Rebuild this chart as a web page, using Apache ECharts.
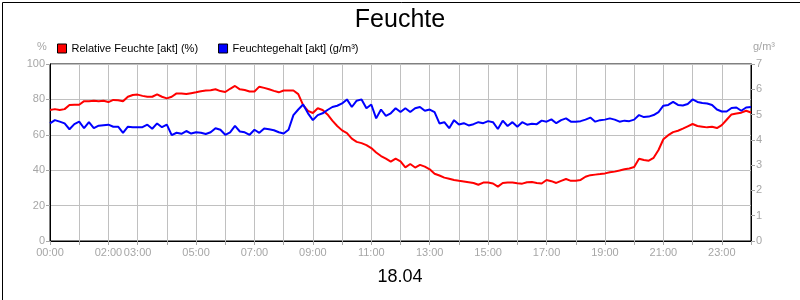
<!DOCTYPE html>
<html>
<head>
<meta charset="utf-8">
<script src="https://cdn.jsdelivr.net/npm/echarts@6/dist/echarts.min.js"></script>
<style>
  html, body { margin: 0; padding: 0; background: #fff; }
  #chart { width: 800px; height: 300px; }
</style>
</head>
<body>
<div id="chart"></div>
<script>
"use strict";

// one reading every 10 minutes, 00:00 .. 24:00
var stepMinutes = 10;

var relFeuchte = [
    74, 74.5, 74, 74.5, 76.8, 77,
    77, 79, 79, 79.3, 79, 79.2,
    78.5, 79.7, 79.5, 78.9, 81.5, 82.5,
    82.7, 82, 81.5, 81.5, 82.9, 81.5,
    80.6, 81.5, 83.4, 83.3, 83, 83.5,
    84, 84.6, 85, 85.2, 85.7, 84.7,
    84.2, 86, 87.6, 85.7, 85.3, 84.5,
    84.5, 87.2, 86.5, 85.7, 84.8, 84,
    85, 85, 85, 83, 76.8, 73.5,
    72.3, 75, 74, 71.5, 68, 65,
    62.5, 61, 57.8, 56, 55.3, 54.2,
    52.5, 50, 48, 46.5, 44.8, 46.5,
    45, 41.6, 43.5, 41.5, 43, 42,
    40.5, 38, 37, 35.8, 35.2, 34.5,
    34, 33.6, 33.2, 32.8, 31.8, 33,
    33, 32.5, 30.7, 32.8, 33, 33,
    32.6, 32.4, 33.2, 33.3, 32.8, 32.5,
    34.5, 33.8, 32.8, 34, 35, 34,
    34, 34.5, 36.3, 37.2, 37.5, 37.8,
    38.2, 38.8, 39.2, 39.8, 40.5, 41,
    41.8, 46.5, 45.8, 45.4, 47, 51.4,
    57.5, 59.8, 61.5, 62.3, 63.5, 64.8,
    66.1, 65, 64.6, 64.2, 64.5, 63.8,
    65.5, 68.5, 71.5, 72, 72.5, 73.6,
    72.6
];

var feuchtegehalt = [
    4.65, 4.78, 4.72, 4.65, 4.42, 4.62,
    4.72, 4.46, 4.7, 4.46, 4.56, 4.58,
    4.6, 4.52, 4.52, 4.28, 4.52, 4.5,
    4.5, 4.5, 4.6, 4.44, 4.65, 4.5,
    4.6, 4.19, 4.28, 4.24, 4.35, 4.25,
    4.3, 4.28, 4.23, 4.3, 4.46, 4.4,
    4.2, 4.3, 4.55, 4.33, 4.3, 4.2,
    4.4, 4.28, 4.45, 4.42, 4.38, 4.3,
    4.25, 4.4, 4.98, 5.2, 5.4, 5.05,
    4.78, 4.98, 5.05, 5.18, 5.3, 5.35,
    5.44, 5.6, 5.3, 5.55, 5.6, 5.25,
    5.4, 4.85, 5.2, 4.95, 5.05, 5.25,
    5.1, 5.25, 5.1, 5.25, 5.3, 5.15,
    5.2, 5.1, 4.65, 4.7, 4.46, 4.78,
    4.61, 4.66, 4.57, 4.62, 4.7, 4.66,
    4.74, 4.7, 4.43, 4.76, 4.55, 4.7,
    4.52, 4.7, 4.6, 4.64, 4.62, 4.76,
    4.72, 4.81, 4.66, 4.78, 4.85, 4.72,
    4.72, 4.74, 4.8, 4.88, 4.72, 4.78,
    4.8, 4.85, 4.8, 4.72, 4.76, 4.74,
    4.8, 4.98, 4.9, 4.92, 4.98, 5.1,
    5.35, 5.38, 5.5, 5.38, 5.36, 5.42,
    5.6, 5.5, 5.46, 5.44, 5.38, 5.2,
    5.12, 5.12, 5.26, 5.28, 5.15, 5.28,
    5.3
];

// hours that carry a label on the time axis
var labeledHours = [0, 2, 3, 5, 7, 9, 11, 13, 15, 17, 19, 21, 23];

var seriesNames = ["Relative Feuchte [akt] (%)", "Feuchtegehalt [akt] (g/m\u00b3)"];

function toPairs(values) {
    return values.map(function (v, i) { return [i * stepMinutes, v]; });
}

function pad(n) { return (n < 10 ? "0" : "") + n; }

var gray = "#a6a6a6";
var font = "Liberation Sans";

var chart = echarts.init(document.getElementById("chart"));

chart.setOption({
    animation: false,
    textStyle: { fontFamily: font },
    title: [{
        text: "Feuchte",
        left: "center",
        top: 3,
        textStyle: { fontSize: 25, fontWeight: "normal", color: "#000", fontFamily: font }
    }, {
        text: "18.04",
        left: "center",
        top: 263,
        textStyle: { fontSize: 18, fontWeight: "normal", color: "#000", fontFamily: font }
    }],
    legend: {
        data: seriesNames,
        left: 52,
        top: 38,
        icon: "rect",
        itemWidth: 9,
        itemHeight: 9,
        itemGap: 20,
        itemStyle: { borderColor: "#000", borderWidth: 1 },
        textStyle: { fontSize: 11, color: "#000", fontFamily: font }
    },
    grid: {
        left: 50,
        right: 49,
        top: 64,
        bottom: 59,
        show: true,
        borderColor: "#000",
        borderWidth: 1
    },
    xAxis: {
        type: "value",
        min: 0,
        max: 1440,
        interval: 60,
        axisLine: { lineStyle: { color: "#000" } },
        axisTick: { length: 4, lineStyle: { color: gray } },
        axisLabel: {
            color: gray,
            fontSize: 11,
            margin: 6,
            formatter: function (v) {
                var h = v / 60;
                return labeledHours.indexOf(h) >= 0 ? pad(h) + ":00" : "";
            }
        },
        splitLine: { lineStyle: { color: "#c0c0c0" } }
    },
    yAxis: [{
        type: "value",
        min: 0,
        max: 100,
        interval: 20,
        axisLine: { show: true, lineStyle: { color: "#000" } },
        axisTick: { show: true, length: 4, lineStyle: { color: gray } },
        axisLabel: { color: gray, fontSize: 11, margin: 5 },
        splitLine: { lineStyle: { color: "#c0c0c0" } }
    }, {
        type: "value",
        min: 0,
        max: 7,
        interval: 1,
        position: "right",
        axisLine: { show: true, lineStyle: { color: "#000" } },
        axisTick: { show: true, length: 4, lineStyle: { color: gray } },
        axisLabel: { color: gray, fontSize: 11, margin: 5 },
        splitLine: { show: false }
    }],
    graphic: [{
        type: "text",
        left: 37,
        top: 41,
        style: { text: "%", fill: gray, font: "11px " + font }
    }, {
        type: "text",
        left: 753,
        top: 41,
        style: { text: "g/m\u00b3", fill: gray, font: "11px " + font }
    }, {
        type: "rect",
        left: 0,
        top: 0,
        shape: { width: 799, height: 299 },
        style: { fill: "none", stroke: "#000", lineWidth: 1 },
        silent: true
    }],
    series: [{
        name: seriesNames[0],
        type: "line",
        yAxisIndex: 0,
        data: toPairs(relFeuchte),
        showSymbol: false,
        color: "#ff0000",
        lineStyle: { width: 2, color: "#ff0000" }
    }, {
        name: seriesNames[1],
        type: "line",
        yAxisIndex: 1,
        data: toPairs(feuchtegehalt),
        showSymbol: false,
        color: "#0000ff",
        lineStyle: { width: 2, color: "#0000ff" }
    }]
});
</script>
</body>
</html>
